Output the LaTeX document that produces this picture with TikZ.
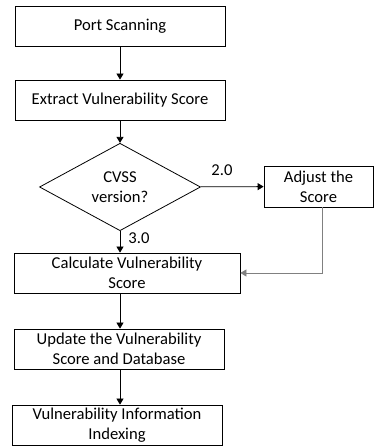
\documentclass[tikz,border=0pt]{standalone}
\usepackage{fontspec}
\setmainfont{Carlito}
\usetikzlibrary{shapes.geometric,arrows.meta}
\tikzset{
	stepbox/.style={draw, rectangle, line width=0.8pt, inner sep=1pt, align=center, minimum height=40pt, font=\fontsize{16.6}{20}\selectfont},
	choice/.style={draw, diamond, line width=0.8pt, inner sep=0pt, align=center, minimum width=161pt, minimum height=67pt, font=\fontsize{16.6}{20}\selectfont},
	flow/.style={-{Triangle[width=7pt,length=6pt]}, line width=0.8pt},
	lbl/.style={font=\fontsize{16.6}{20}\selectfont}
}

\begin{document}
\begin{tikzpicture}[x=1pt, y=1pt]
				\useasboundingbox (0, 0) rectangle (374, 446);
				\node[stepbox, minimum width=210pt] (PS)at(120, 420) {Port Scanning};
				\node[stepbox, minimum width=210pt] (EVS)at(120, 346) {Extract Vulnerability Score};
				\node[choice] (CV)at(120, 259) {CVSS\\version?};
				\node[stepbox, minimum width=109pt, minimum height=41pt] (ADJ)at(318.5, 259.5) {Adjust the\\Score};
				\node[stepbox, minimum width=226pt] (CALC)at(127, 173) {Calculate Vulnerability\\Score};
				\node[stepbox, minimum width=210pt] (UPD)at(119, 97) {Update the Vulnerability\\Score and Database};
				\node[stepbox, minimum width=210pt] (IDX)at(117, 21) {Vulnerability Information\\Indexing};
				\node[lbl] (V2)at(222, 276) {2.0};
				\node[lbl] (V3)at(139, 208) {3.0};
				\draw[flow] (PS) -- (EVS);
				\draw[flow] (EVS) -- (CV);
				\draw[flow] (CV) -- (ADJ);
				\draw[flow] (CV.south) -- (CV.south |- CALC.north);
				\draw[flow, gray] (ADJ.south -| 322, 0) |- (CALC.east);
				\draw[flow] (CALC.south -| CV.south) -- (UPD.north -| CV.south);
				\draw[flow] (UPD.south -| CV.south) -- (IDX.north -| CV.south);
			\end{tikzpicture}
\end{document}
